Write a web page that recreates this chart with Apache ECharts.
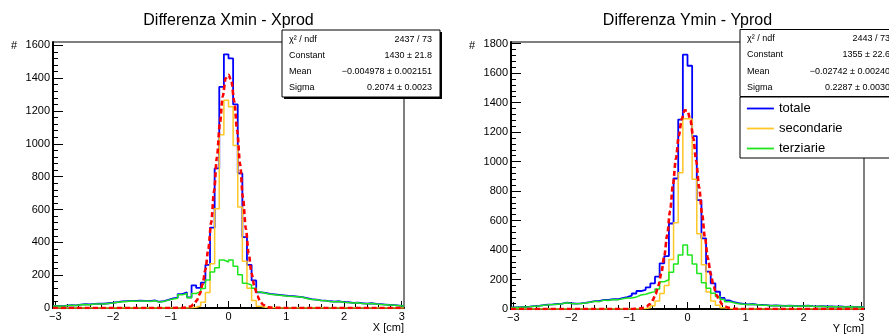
<!DOCTYPE html>
<html>
<head>
<meta charset="utf-8">
<title>Differenza Xmin - Xprod / Ymin - Yprod</title>
<script src="https://cdn.jsdelivr.net/npm/echarts@6.0.0/dist/echarts.min.js"></script>
<style>
  html, body { margin: 0; padding: 0; background: #fff; }
  #chart { width: 889px; height: 334px; }
</style>
</head>
<body>
<div id="chart"></div>
<script>
// Histogram binning: 76 bins of 0.08 cm between -3.04 and 3.04
const BIN_LO = -3.04;
const BIN_W = 0.08;
const BIN_HI = 3.04;

const xTickLabels = [-3, -2, -1, 0, 1, 2, 3];
const yTickLabelsX = [0, 200, 400, 600, 800, 1000, 1200, 1400, 1600];
const yTickLabelsY = [0, 200, 400, 600, 800, 1000, 1200, 1400, 1600, 1800];

// Differenza Xmin - Xprod (counts per bin)
const totaleX = [
  13, 11, 15, 17, 16, 21, 23, 22, 25, 27,
  26, 29, 32, 36, 40, 42, 44, 43, 45, 44,
  42, 46, 38, 42, 50, 58, 63, 85, 95, 65,
  138, 122, 155, 263, 490, 850, 1347, 1545, 1520, 1240,
  820, 432, 263, 168, 95, 92, 86, 83, 80, 77,
  74, 72, 69, 66, 60, 54, 51, 47, 45, 41,
  39, 41, 36, 35, 31, 33, 29, 27, 29, 25,
  23, 21, 19, 17, 15, 13
];
const secondarieX = [
  0, 0, 0, 0, 0, 0, 0, 0, 0, 0,
  0, 0, 0, 0, 0, 0, 0, 0, 0, 0,
  0, 0, 0, 0, 0, 0, 0, 0, 0, 1,
  4, 12, 35, 95, 270, 605, 1055, 1266, 1225, 990,
  615, 285, 120, 45, 10, 4, 2, 1, 0, 0,
  0, 0, 0, 0, 0, 0, 0, 0, 0, 0,
  0, 0, 0, 0, 0, 0, 0, 0, 0, 0,
  0, 0, 0, 0, 0, 0
];
const terziarieX = [
  12, 10, 14, 16, 15, 20, 22, 20, 24, 25,
  24, 28, 30, 35, 38, 40, 42, 41, 43, 42,
  40, 44, 36, 40, 48, 55, 60, 80, 88, 62,
  88, 100, 118, 170, 220, 245, 292, 280, 293, 255,
  202, 150, 140, 120, 98, 90, 84, 81, 78, 75,
  72, 70, 68, 65, 58, 52, 50, 46, 44, 40,
  38, 40, 35, 34, 30, 32, 28, 26, 28, 24,
  22, 20, 18, 16, 14, 12
];
// gaussian fit curve
const fitPosX = [-3.04, -1.0, -0.8, -0.75, -0.7, -0.65, -0.6, -0.55, -0.5, -0.45, -0.4, -0.35, -0.3, -0.25, -0.2, -0.15, -0.1, -0.05,
  0, 0.05, 0.1, 0.15, 0.2, 0.25, 0.3, 0.35, 0.4, 0.45, 0.5, 0.55, 0.6, 0.65, 0.7, 0.75, 0.8, 1.0, 3.04];
const fitValX = [0, 0, 1, 2, 5, 11, 23, 45, 83, 143, 233, 358, 520, 712, 919, 1120, 1288, 1397,
  1420, 1381, 1258, 1082, 877, 672, 485, 330, 212, 129, 74, 40, 20, 10, 4, 2, 1, 0, 0];

// Differenza Ymin - Yprod
const totaleY = [
  11, 13, 15, 16, 19, 21, 26, 29, 31, 34,
  37, 43, 39, 37, 38, 42, 47, 54, 53, 62,
  61, 67, 66, 74, 80, 90, 105, 122, 130, 147,
  174, 219, 310, 359, 580, 885, 1285, 1725, 1650, 1172,
  738, 479, 253, 174, 117, 75, 58, 46, 40, 35,
  32, 34, 30, 28, 26, 23, 25, 23, 21, 23,
  21, 19, 21, 23, 19, 18, 19, 17, 18, 16,
  17, 15, 16, 14, 15, 13
];
const secondarieY = [
  0, 0, 0, 0, 0, 0, 0, 0, 0, 0,
  0, 0, 0, 0, 0, 0, 0, 0, 0, 0,
  0, 0, 0, 0, 0, 0, 0, 2, 4, 8,
  22, 55, 105, 160, 335, 585, 925, 1290, 1288, 880,
  510, 300, 115, 55, 25, 8, 3, 1, 0, 0,
  0, 0, 0, 0, 0, 0, 0, 0, 0, 0,
  0, 0, 0, 0, 0, 0, 0, 0, 0, 0,
  0, 0, 0, 0, 0, 0
];
const terziarieY = [
  10, 12, 14, 15, 18, 20, 25, 28, 30, 33,
  36, 42, 38, 36, 37, 40, 45, 52, 50, 60,
  58, 64, 62, 70, 74, 75, 82, 95, 100, 110,
  118, 135, 185, 198, 250, 305, 366, 434, 366, 305,
  240, 178, 140, 106, 84, 65, 50, 42, 36, 32,
  30, 32, 28, 26, 25, 22, 24, 22, 20, 22,
  20, 18, 20, 22, 18, 17, 18, 16, 17, 15,
  16, 14, 15, 13, 14, 12
];
const fitPosY = [-3.04, -1.0, -0.9, -0.8, -0.75, -0.7, -0.65, -0.6, -0.55, -0.5, -0.45, -0.4, -0.35, -0.3, -0.25, -0.2, -0.15, -0.1, -0.05,
  0, 0.05, 0.1, 0.15, 0.2, 0.25, 0.3, 0.35, 0.4, 0.45, 0.5, 0.55, 0.6, 0.65, 0.7, 0.8, 0.9, 1.0, 3.04];
const fitValY = [0, 0, 1, 4, 9, 18, 33, 59, 100, 160, 246, 359, 501, 666, 844, 1019, 1174, 1288, 1348,
  1345, 1280, 1160, 1003, 827, 649, 486, 347, 236, 153, 95, 56, 31, 17, 9, 2, 0, 0, 0];

const statsLabels = ['\u03c7\u00b2 / ndf', 'Constant', 'Mean', 'Sigma'];
const statsValuesX = ['2437 / 73', '1430 \u00b1 21.8', '\u22120.004978 \u00b1 0.002151', '0.2074 \u00b1 0.0023'];
const statsValuesY = ['2443 / 73', '1355 \u00b1 22.6', '\u22120.02742 \u00b1 0.00240', '0.2287 \u00b1 0.0030'];

const FONT = 'Liberation Sans, Arial, Helvetica, sans-serif';

function histLine(values) {
  const pts = values.map((v, i) => [+(BIN_LO + i * BIN_W).toFixed(2), v]);
  pts.push([BIN_HI, values[values.length - 1]]);
  return pts;
}

function stepTicks(lo, hi, step) {
  const out = [];
  for (let v = lo; v <= hi + 1e-9; v += step) out.push(+v.toFixed(2));
  return out;
}

function tickText(v) {
  return v < 0 ? '\u2212' + Math.abs(v) : String(v);
}

function statsBox(x, y, w, h, values) {
  const rowY = [9.5, 25.5, 42, 58];
  const children = [
    { type: 'rect', shape: { x: 2, y: 2, width: w, height: h }, style: { fill: '#000' } },
    { type: 'rect', shape: { x: 0, y: 0, width: w, height: h }, style: { fill: '#fff', stroke: '#000', lineWidth: 1 } }
  ];
  statsLabels.forEach((label, k) => {
    children.push({ type: 'text', x: 7, y: rowY[k], style: { text: label, fontSize: 9, fontFamily: FONT, fill: '#000', verticalAlign: 'middle' } });
    children.push({ type: 'text', x: 150, y: rowY[k], style: { text: values[k], fontSize: 9, fontFamily: FONT, fill: '#000', align: 'right', verticalAlign: 'middle' } });
  });
  return { type: 'group', x: x, y: y, z: 100, children: children };
}

const panels = [
  {
    left: 53, top: 42, width: 351, height: 266, yMax: 1620, yTicks: yTickLabelsX,
    title: 'Differenza Xmin - Xprod', axisName: 'X [cm]',
    totale: totaleX, secondarie: secondarieX, terziarie: terziarieX, fitPos: fitPosX, fitVal: fitValX
  },
  {
    left: 511, top: 42, width: 353, height: 267, yMax: 1811, yTicks: yTickLabelsY,
    title: 'Differenza Ymin - Yprod', axisName: 'Y [cm]',
    totale: totaleY, secondarie: secondarieY, terziarie: terziarieY, fitPos: fitPosY, fitVal: fitValY
  }
];

const grids = [], xAxes = [], yAxes = [], titles = [], series = [];
const axisText = { fontSize: 11, fontFamily: FONT, color: '#000' };

panels.forEach((p, i) => {
  grids.push({ left: p.left, top: p.top, width: p.width, height: p.height, show: true, borderColor: '#000', borderWidth: 1 });

  titles.push({
    text: p.title, left: p.left + p.width / 2, top: 13, textAlign: 'center', padding: 0,
    textStyle: { fontSize: 16, fontWeight: 'normal', color: '#000', fontFamily: FONT }
  });

  // main axes with labels + major ticks, then an overlaid axis for minor ticks
  xAxes.push({
    gridIndex: i, type: 'value', min: BIN_LO, max: BIN_HI, position: 'bottom',
    axisLine: { show: true, onZero: false, lineStyle: { color: '#000', width: 2 } },
    axisTick: { show: true, inside: true, length: 7, customValues: xTickLabels, lineStyle: { color: '#000' } },
    axisLabel: { customValues: xTickLabels, formatter: tickText, margin: 3, ...axisText },
    splitLine: { show: false },
    name: p.axisName, nameLocation: 'end', nameGap: 0,
    nameTextStyle: { ...axisText, align: 'right', verticalAlign: 'top', padding: [14, 0, 0, 0] }
  });
  xAxes.push({
    gridIndex: i, type: 'value', min: BIN_LO, max: BIN_HI, position: 'bottom',
    axisLine: { show: false, onZero: false },
    axisTick: { show: true, inside: true, length: 4, customValues: stepTicks(-3, 3, 0.2), lineStyle: { color: '#000' } },
    axisLabel: { show: false }, splitLine: { show: false }
  });
  yAxes.push({
    gridIndex: i, type: 'value', min: 0, max: p.yMax, position: 'left',
    axisLine: { show: true, onZero: false, lineStyle: { color: '#000', width: 2 } },
    axisTick: { show: true, inside: true, length: 10, customValues: p.yTicks, lineStyle: { color: '#000' } },
    axisLabel: { customValues: p.yTicks, formatter: v => String(v), margin: 3, ...axisText },
    splitLine: { show: false },
    name: '#', nameLocation: 'end', nameGap: -4,
    nameTextStyle: { ...axisText, align: 'right', verticalAlign: 'middle', padding: [0, 36, 0, 0] }
  });
  yAxes.push({
    gridIndex: i, type: 'value', min: 0, max: p.yMax, position: 'left',
    axisLine: { show: false, onZero: false },
    axisTick: { show: true, inside: true, length: 5, customValues: stepTicks(0, p.yTicks[p.yTicks.length - 1], 40), lineStyle: { color: '#000' } },
    axisLabel: { show: false }, splitLine: { show: false }
  });

  const ax = { xAxisIndex: 2 * i, yAxisIndex: 2 * i, symbol: 'none', silent: true };
  series.push({ ...ax, name: 'totale', type: 'line', step: 'end', data: histLine(p.totale), z: 2,
    lineStyle: { color: '#0000ff', width: 1.8 }, itemStyle: { color: '#0000ff' } });
  series.push({ ...ax, name: 'secondarie', type: 'line', step: 'end', data: histLine(p.secondarie), z: 3,
    lineStyle: { color: '#ffc627', width: 1.5 }, itemStyle: { color: '#ffc627' } });
  series.push({ ...ax, name: 'terziarie', type: 'line', step: 'end', data: histLine(p.terziarie), z: 4,
    lineStyle: { color: '#1ee61e', width: 1.5 }, itemStyle: { color: '#1ee61e' } });
  series.push({ ...ax, name: 'fit', type: 'line', smooth: 0.3, smoothMonotone: 'x', z: 5,
    data: p.fitPos.map((x, k) => [x, p.fitVal[k]]),
    lineStyle: { color: '#ff0000', width: 2.6, type: [5, 3] } });
});

const chart = echarts.init(document.getElementById('chart'));
chart.setOption({
  animation: false,
  backgroundColor: '#fff',
  title: titles,
  grid: grids,
  xAxis: xAxes,
  yAxis: yAxes,
  series: series,
  legend: {
    data: ['totale', 'secondarie', 'terziarie'],
    orient: 'vertical', left: 740, top: 97,
    padding: [5, 60, 3, 6], itemGap: 7, itemWidth: 27, itemHeight: 14,
    backgroundColor: '#fff', borderColor: '#000', borderWidth: 1,
    itemStyle: { opacity: 0 },
    lineStyle: { width: 1.8 },
    textStyle: { fontSize: 13, fontFamily: FONT, color: '#000' },
    selectedMode: false
  },
  graphic: [
    statsBox(282, 30, 158, 67, statsValuesX),
    statsBox(740, 29.5, 160, 67, statsValuesY)
  ]
});
</script>
</body>
</html>
